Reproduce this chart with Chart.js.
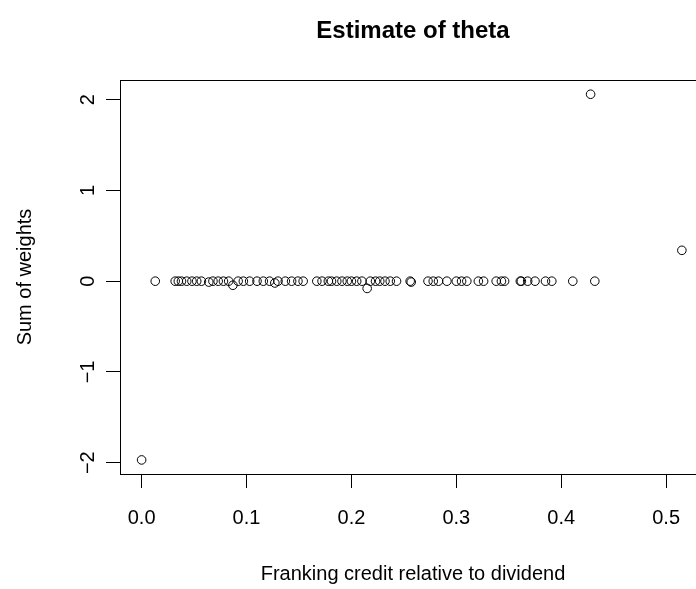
<!DOCTYPE html>
<html>
<head>
<meta charset="utf-8">
<script src="https://cdn.jsdelivr.net/npm/chart.js@4/dist/chart.umd.min.js"></script>
<style>
  html, body { margin: 0; padding: 0; background: #fff; overflow: hidden; width: 696px; height: 589px; }
  canvas { display: block; }
</style>
</head>
<body>
<canvas id="c" width="730" height="589"></canvas>
<script>
// ---- data ----
const chartTitle = "Estimate of theta";
const xTitle = "Franking credit relative to dividend";
const yTitle = "Sum of weights";

const xValues = [0.000, 0.013, 0.032, 0.035, 0.038, 0.043, 0.048, 0.0525, 0.057, 0.064,
  0.068, 0.073, 0.078, 0.083, 0.087, 0.092, 0.097, 0.103, 0.110, 0.116,
  0.122, 0.127, 0.130, 0.137, 0.143, 0.149, 0.154, 0.167, 0.172, 0.178,
  0.181, 0.186, 0.191, 0.196, 0.200, 0.205, 0.210, 0.215, 0.218, 0.223,
  0.227, 0.232, 0.237, 0.243, 0.256, 0.257, 0.273, 0.278, 0.283, 0.291,
  0.300, 0.305, 0.310, 0.321, 0.326, 0.338, 0.343, 0.346, 0.361, 0.362,
  0.368, 0.375, 0.385, 0.391, 0.411, 0.432, 0.428, 0.515];
const yValues = [-1.97, 0, 0, 0, 0, 0, 0, 0, 0, -0.01,
  0, 0, 0, 0, -0.045, 0, 0, 0, 0, 0,
  0, -0.02, 0, 0, 0, 0, 0, 0, 0, 0,
  0, 0, 0, 0, 0, 0, 0, -0.08, 0, 0,
  0, 0, 0, 0, 0, -0.01, 0, 0, 0, 0,
  0, 0, 0, 0, 0, 0, 0, 0, 0, 0,
  0, 0, 0, 0, 0, 0, 2.06, 0.34];

const xTicks = [0.0, 0.1, 0.2, 0.3, 0.4, 0.5];
const xTickLabels = ["0.0", "0.1", "0.2", "0.3", "0.4", "0.5"];
const yTicks = [-2, -1, 0, 1, 2];
const yTickLabels = ["\u22122", "\u22121", "0", "1", "2"];

const xRange = [-0.0206, 0.538];
const yRange = [-2.125, 2.217];

// ---- chart ----
const points = xValues.map((x, i) => ({ x: x, y: yValues[i] }));
const FONT = '"Liberation Sans", Arial, Helvetica, sans-serif';
Chart.defaults.font.family = FONT;
Chart.defaults.color = '#000';

const boxAndTitle = {
  id: 'boxAndTitle',
  afterDraw(chart) {
    const ca = chart.chartArea;
    const ctx = chart.ctx;
    ctx.save();
    ctx.strokeStyle = '#000';
    ctx.lineWidth = 1;
    ctx.strokeRect(Math.round(ca.left) + 0.5, Math.round(ca.top) + 0.5,
                   Math.round(ca.right - ca.left), Math.round(ca.bottom - ca.top));
    ctx.fillStyle = '#000';
    ctx.font = 'bold 24px ' + FONT;
    ctx.textAlign = 'center';
    ctx.textBaseline = 'middle';
    ctx.fillText(chartTitle, (ca.left + ca.right) / 2, 31);
    ctx.restore();
  }
};

new Chart(document.getElementById('c'), {
  type: 'scatter',
  data: {
    datasets: [{
      data: points,
      pointStyle: 'circle',
      pointRadius: 4.3,
      pointBorderWidth: 1,
      pointBorderColor: '#000',
      pointBackgroundColor: 'rgba(0,0,0,0)',
      showLine: false
    }]
  },
  options: {
    responsive: false,
    animation: false,
    events: [],
    devicePixelRatio: 1,
    layout: { padding: { top: 80, right: 24, bottom: 0, left: 0 } },
    plugins: { legend: { display: false }, tooltip: { enabled: false }, title: { display: false } },
    scales: {
      x: {
        type: 'linear',
        min: xRange[0], max: xRange[1],
        afterBuildTicks: s => { s.ticks = xTicks.map(v => ({ value: v })); },
        afterFit: s => { s.height = 115; },
        ticks: {
          autoSkip: false,
          maxRotation: 0, minRotation: 0,
          padding: 18,
          font: { size: 20 },
          color: '#000',
          callback: (v) => { const i = xTicks.findIndex(t => Math.abs(t - v) < 1e-9); return i >= 0 ? xTickLabels[i] : ''; }
        },
        grid: { display: true, drawOnChartArea: false, drawTicks: true, tickLength: 14, tickColor: '#000', tickWidth: 1 },
        border: { display: false },
        title: { display: true, text: xTitle, font: { size: 20 }, color: '#000', padding: { top: 0, bottom: 3 } }
      },
      y: {
        type: 'linear',
        min: yRange[0], max: yRange[1],
        afterBuildTicks: s => { s.ticks = yTicks.map(v => ({ value: v })); },
        afterFit: s => { s.width = 120; },
        ticks: {
          autoSkip: false,
          minRotation: 90, maxRotation: 90,
          crossAlign: 'center',
          padding: 6,
          font: { size: 20 },
          color: '#000',
          callback: (v) => { const i = yTicks.findIndex(t => Math.abs(t - v) < 1e-9); return i >= 0 ? yTickLabels[i] : ''; }
        },
        grid: { display: true, drawOnChartArea: false, drawTicks: true, tickLength: 14, tickColor: '#000', tickWidth: 1 },
        border: { display: false },
        title: { display: true, text: yTitle, font: { size: 20 }, color: '#000', padding: { top: 13, bottom: 0 } }
      }
    }
  },
  plugins: [boxAndTitle]
});
</script>
</body>
</html>
